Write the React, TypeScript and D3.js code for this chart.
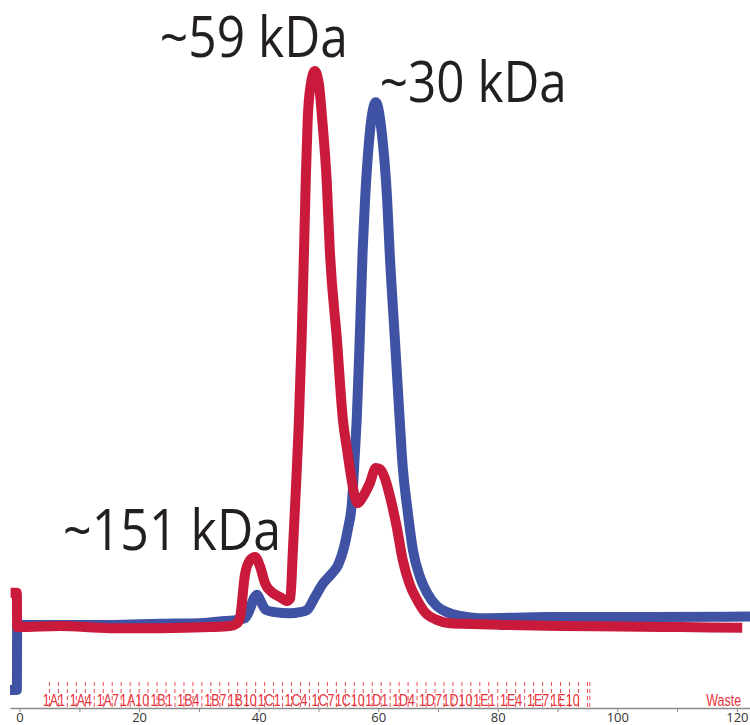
import React, { useEffect, useRef } from 'react';
import * as d3 from 'd3';

// elution volume (mL), absorbance (mAU, arbitrary)
const blueTrace: [number, number][] = [
  [-1.6, -11.5], [-0.45, -11.5], [-0.4, 0.2], [0, 0.2], [6.8, 0.2], [15.1, 0.2], [23.5, 0.4],
  [30.2, 0.5], [34.4, 0.9], [36.4, 1.1], [37.7, 1.4], [38.5, 2.9], [39.2, 5.0], [39.7, 5.6],
  [40.4, 4.3], [41.2, 2.9], [42.7, 2.5], [45.2, 2.3], [46.9, 2.5], [48.1, 2.9], [49.4, 5.2],
  [50.8, 7.7], [52.3, 9.5], [53.3, 11.0], [54.3, 14.2], [54.9, 17.3], [55.6, 22.1], [56.1, 31.1],
  [56.4, 37.0], [56.9, 51.4], [57.4, 67.6], [57.8, 76.6], [58.6, 88.7], [59.6, 94.2], [60.6, 88.7],
  [61.5, 76.6], [61.9, 67.6], [62.8, 51.4], [63.6, 37.0], [64.1, 28.6], [64.9, 20.9], [65.8, 13.7],
  [67.0, 8.8], [68.1, 6.1], [69.8, 3.6], [71.5, 2.5], [73.7, 1.8], [77.0, 1.4], [88.7, 1.6],
  [105.4, 1.6], [122.2, 1.7],
];

const redTrace: [number, number][] = [
  [-1.5, 6.0], [-0.45, 6.0], [-0.4, -0.2], [0, -0.2], [6.8, 0], [15.1, -0.4], [23.5, -0.4],
  [31.9, -0.2], [35.2, 0], [36.4, 0.5], [36.9, 1.6], [37.7, 9.2], [38.6, 11.9], [39.4, 12.4],
  [40.2, 10.8], [41.1, 7.6], [42.2, 6.1], [43.6, 5.2], [44.7, 4.5], [45.3, 5.0], [45.7, 13.0],
  [46.2, 24.0], [46.7, 36.0], [47.2, 52.0], [47.6, 68.0], [47.9, 81.0], [48.2, 91.0], [48.7, 97.3],
  [49.4, 99.8], [50.1, 97.3], [50.6, 91.5], [51.4, 79.7], [51.9, 67.6], [53.1, 51.4], [54.1, 37.0],
  [54.8, 31.7], [55.3, 28.0], [56.1, 23.2], [56.6, 22.1], [57.4, 23.2], [58.6, 25.7], [59.6, 28.4],
  [60.3, 28.2], [61.1, 26.6], [61.9, 23.6], [63.1, 17.8], [64.1, 11.9], [65.3, 7.4], [66.5, 4.7],
  [67.8, 2.5], [69.8, 1.1], [72.0, 0.5], [74.2, 0.4], [80.4, 0.2], [90.4, 0], [100.4, -0.1],
  [110.5, -0.2], [120.9, -0.3],
];

const fractionRows = ['A', 'B', 'C', 'D', 'E'];
const fractionsPerRow = 12;
const fractionStart = 5;
const fractionWidth = 1.5;
const wasteMarks = [95.4];

const peakLabels = ['~59 kDa', '~30 kDa', '~151 kDa'];
const peakAt: [number, number][] = [[49.4, 99.8], [59.6, 94.2], [39.4, 12.4]];

const W = 750;
const H = 725;

export default function App() {
  const axisRef = useRef<SVGGElement>(null);

  const x = d3.scaleLinear().domain([-1.6, 122.2]).range([10, 750]);
  const y = d3.scaleLinear().domain([0, 100]).range([626, 70]);

  const line = d3
    .line<[number, number]>()
    .x(d => x(d[0]))
    .y(d => y(d[1]))
    .curve(d3.curveMonotoneX);

  const fractions: { name: string; x0: number; x1: number }[] = [];
  fractionRows.forEach((r, ri) => {
    for (let c = 1; c <= fractionsPerRow; c++) {
      const i = ri * fractionsPerRow + c - 1;
      const x0 = fractionStart + i * fractionWidth;
      fractions.push({ name: `1${r}${c}`, x0, x1: x0 + fractionWidth });
    }
  });
  const bounds = [fractionStart, ...fractions.map(f => f.x1), ...wasteMarks];

  useEffect(() => {
    const g = d3.select(axisRef.current);
    g.selectAll('*').remove();
    const axis = d3
      .axisBottom(x)
      .tickValues(d3.range(0, 121, 10))
      .tickFormat(d => (+d % 20 === 0 ? String(d) : ''))
      .tickSize(4)
      .tickPadding(3)
      .tickSizeOuter(0);
    g.call(axis);
    g.select('.domain').attr('stroke', '#8a8a8a').attr('stroke-width', 1.5);
    g.selectAll('.tick line').attr('stroke', '#8a8a8a');
    g.selectAll('.tick text')
      .attr('fill', '#333')
      .attr('font-size', 13)
      .attr('y', 5)
      .attr('dy', '0.71em')
      .attr('font-family', 'Open Sans, sans-serif');
  }, []);

  // label text positions (baseline start) relative to each peak
  const labelPos = [
    { dx: -155, dy: -14, len: 188 },
    { dx: 4, dy: 0, len: 187 },
    { dx: -192, dy: -7, len: 218 },
  ];

  return (
    <svg width={W} height={H} style={{ position: 'absolute', left: 0, top: 0, background: '#fff' }}>
      <g ref={axisRef} transform="translate(0,708)" />
      <g>
        {bounds.map((b, i) => (
          <line
            key={i}
            x1={x(b)}
            x2={x(b)}
            y1={682}
            y2={707}
            stroke="#ea4d55"
            strokeWidth={1}
            strokeDasharray="4,3"
          />
        ))}
        {fractions
          .filter((_, i) => i % 3 === 0)
          .map(f => (
            <text
              key={f.name}
              transform={`translate(${x((f.x0 + f.x1) / 2)},706) scale(1,1.25)`}
              textAnchor="middle"
              fontSize={12.5}
              fontFamily="Liberation Sans, Arial, sans-serif"
              fill="#e6323a"
            >
              {f.name}
            </text>
          ))}
        <text
          transform={`translate(${x(117.8)},706) scale(1,1.25)`}
          textAnchor="middle"
          fontSize={12.5}
          fontFamily="Liberation Sans, Arial, sans-serif"
          fill="#e6323a"
        >
          Waste
        </text>
      </g>
      <path d={line(blueTrace) || ''} fill="none" stroke="#3f52a3" strokeWidth={10} strokeLinejoin="round" />
      <path d={line(redTrace) || ''} fill="none" stroke="#c91a3b" strokeWidth={10} strokeLinejoin="round" />
      {peakLabels.map((t, i) => (
        <text
          key={t}
          x={x(peakAt[i][0]) + labelPos[i].dx}
          y={y(peakAt[i][1]) + labelPos[i].dy}
          fontSize={56}
          fontFamily="Open Sans, sans-serif"
          fill="#231f20"
          textLength={labelPos[i].len}
          lengthAdjust="spacingAndGlyphs"
        >
          {t}
        </text>
      ))}
    </svg>
  );
}
